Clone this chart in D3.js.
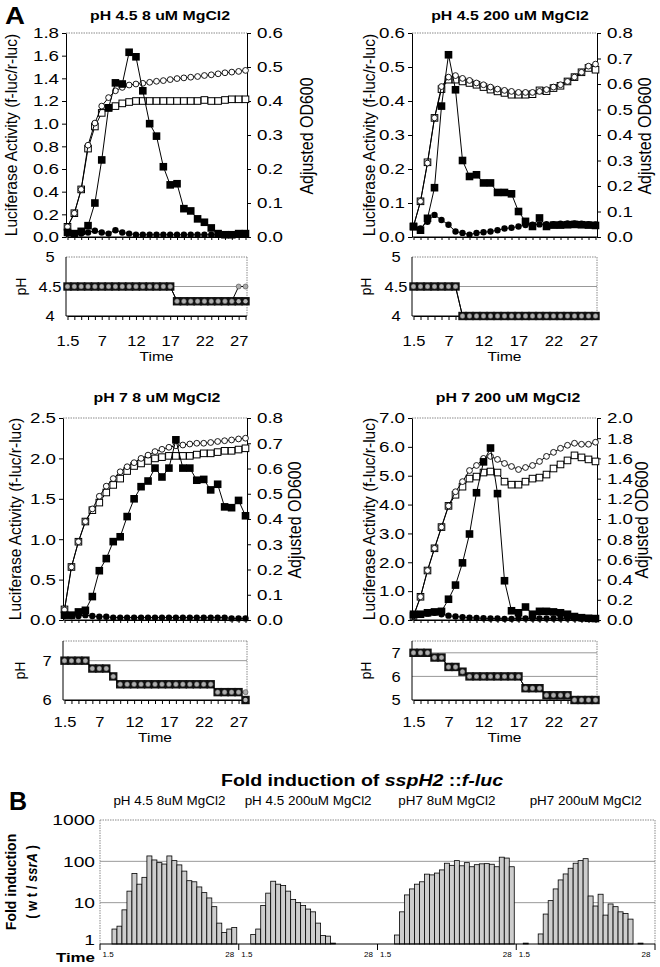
<!DOCTYPE html>
<head>
<meta charset="utf-8">
<script src="https://d3js.org/d3.v7.min.js"></script>
<style>
  body { margin:0; background:#fff; }
  svg { font-family: "Liberation Sans", Arial, Helvetica, sans-serif; }
  text { fill:#000; }
</style>
</head>
<body>
<svg id="fig" width="660" height="967"></svg>
<script>
// ---- data ----
const times = [1.5, 3, 4, 5, 6, 7, 8, 9, 10, 11, 12, 13, 14, 15, 16, 17, 18, 19, 20, 21, 22, 23, 24, 25, 26, 27, 28];
const timeTicks = [1.5, 7, 12, 17, 22, 27];

// pH 4.5, 8 uM MgCl2
const p1Luc     = [0.04,0.03,0.05,0.10,0.30,0.68,1.14,1.36,1.35,1.63,1.59,1.29,1.00,0.89,0.62,0.46,0.47,0.25,0.23,0.16,0.13,0.08,0.03,0.02,0.02,0.03,0.03];
const p1LucSsrA = [0.03,0.03,0.03,0.04,0.055,0.04,0.03,0.06,0.04,0.03,0.02,0.02,0.02,0.02,0.02,0.02,0.02,0.02,0.02,0.02,0.02,0.02,0.02,0.02,0.02,0.02,0.02];
const p1OD      = [0.03,0.07,0.14,0.27,0.335,0.385,0.41,0.43,0.44,0.447,0.45,0.452,0.455,0.458,0.46,0.463,0.466,0.468,0.47,0.472,0.475,0.477,0.48,0.483,0.485,0.487,0.49];
const p1ODSsrA  = [0.03,0.07,0.14,0.26,0.325,0.365,0.38,0.385,0.393,0.397,0.40,0.40,0.40,0.40,0.40,0.40,0.40,0.40,0.40,0.40,0.403,0.40,0.40,0.403,0.405,0.405,0.405];
const p1pH      = [4.5,4.5,4.5,4.5,4.5,4.5,4.5,4.5,4.5,4.5,4.5,4.5,4.5,4.5,4.5,4.5,4.25,4.25,4.25,4.25,4.25,4.25,4.25,4.25,4.25,4.25,4.25];
const p1pHSsrA  = [4.5,4.5,4.5,4.5,4.5,4.5,4.5,4.5,4.5,4.5,4.5,4.5,4.5,4.5,4.5,4.5,4.25,4.25,4.25,4.25,4.25,4.25,4.25,4.25,4.25,4.5,4.5];
const p1LeftTicks  = [0.0,0.2,0.4,0.6,0.8,1.0,1.2,1.4,1.6,1.8];
const p1RightTicks = [0.0,0.1,0.2,0.3,0.4,0.5,0.6];
const p1pHTicks = [4, 4.5, 5];

// pH 4.5, 200 uM MgCl2
const p2Luc     = [0.03,0.02,0.055,0.145,0.385,0.536,0.433,0.225,0.178,0.183,0.159,0.159,0.131,0.131,0.127,0.075,0.046,0.031,0.056,0.031,0.035,0.035,0.036,0.037,0.036,0.035,0.034];
const p2LucSsrA = [0.03,0.025,0.045,0.065,0.05,0.036,0.016,0.012,0.007,0.012,0.014,0.016,0.02,0.025,0.027,0.031,0.035,0.036,0.037,0.038,0.038,0.039,0.04,0.04,0.039,0.038,0.037];
const p2OD      = [0.042,0.14,0.29,0.467,0.59,0.627,0.633,0.622,0.614,0.604,0.597,0.588,0.58,0.575,0.571,0.567,0.567,0.567,0.571,0.578,0.588,0.597,0.61,0.627,0.646,0.67,0.678];
const p2ODSsrA  = [0.042,0.14,0.293,0.467,0.58,0.617,0.617,0.61,0.604,0.597,0.588,0.578,0.571,0.565,0.558,0.558,0.558,0.56,0.575,0.572,0.584,0.593,0.61,0.627,0.646,0.663,0.656];
const p2pH      = [4.5,4.5,4.5,4.5,4.5,4.5,4.5,4,4,4,4,4,4,4,4,4,4,4,4,4,4,4,4,4,4,4,4];
const p2pHSsrA  = [4.5,4.5,4.5,4.5,4.5,4.5,4.5,4,4,4,4,4,4,4,4,4,4,4,4,4,4,4,4,4,4,4,4];
const p2LeftTicks  = [0.0,0.1,0.2,0.3,0.4,0.5,0.6];
const p2RightTicks = [0.0,0.1,0.2,0.3,0.4,0.5,0.6,0.7,0.8];
const p2pHTicks = [4, 4.5, 5];

// pH 7, 8 uM MgCl2
const p3Luc     = [0.06,0.06,0.10,0.12,0.29,0.61,0.76,0.97,1.03,1.28,1.50,1.65,1.72,1.88,1.77,1.88,2.23,1.88,1.88,1.73,1.74,1.61,1.68,1.40,1.39,1.48,1.29];
const p3LucSsrA = [0.05,0.05,0.05,0.06,0.05,0.04,0.04,0.03,0.03,0.03,0.03,0.03,0.03,0.03,0.03,0.03,0.03,0.03,0.03,0.03,0.03,0.03,0.03,0.03,0.02,0.02,0.02];
const p3OD      = [0.04,0.21,0.31,0.39,0.44,0.49,0.53,0.56,0.587,0.607,0.623,0.64,0.653,0.667,0.676,0.684,0.69,0.693,0.697,0.70,0.70,0.703,0.707,0.71,0.713,0.717,0.72];
const p3ODSsrA  = [0.042,0.21,0.31,0.39,0.435,0.465,0.505,0.535,0.56,0.59,0.61,0.62,0.63,0.64,0.645,0.65,0.65,0.65,0.65,0.655,0.66,0.66,0.665,0.67,0.67,0.675,0.68];
const p3pH      = [7,7,7,7,6.8,6.8,6.8,6.6,6.4,6.4,6.4,6.4,6.4,6.4,6.4,6.4,6.4,6.4,6.4,6.4,6.4,6.4,6.2,6.2,6.2,6.2,6.0];
const p3pHSsrA  = [7,7,7,7,6.8,6.8,6.8,6.6,6.4,6.4,6.4,6.4,6.4,6.4,6.4,6.4,6.4,6.4,6.4,6.4,6.4,6.4,6.2,6.2,6.2,6.2,6.2];
const p3LeftTicks  = [0.0,0.5,1.0,1.5,2.0,2.5];
const p3RightTicks = [0.0,0.1,0.2,0.3,0.4,0.5,0.6,0.7,0.8];
const p3pHTicks = [6, 7];

// pH 7, 200 uM MgCl2
const p4Luc     = [0.2,0.2,0.25,0.28,0.3,0.72,1.21,1.98,2.98,4.41,5.48,5.96,4.38,1.36,0.32,0.25,0.45,0.2,0.3,0.3,0.28,0.25,0.2,0.12,0.08,0.06,0.05];
const p4LucSsrA = [0.15,0.2,0.22,0.25,0.2,0.15,0.12,0.1,0.08,0.07,0.06,0.05,0.05,0.04,0.04,0.05,0.05,0.05,0.05,0.05,0.05,0.05,0.05,0.05,0.04,0.04,0.04];
const p4OD      = [0.04,0.23,0.49,0.71,0.92,1.13,1.27,1.37,1.48,1.53,1.60,1.62,1.59,1.55,1.52,1.49,1.51,1.53,1.57,1.62,1.66,1.70,1.73,1.75,1.74,1.74,1.76];
const p4ODSsrA  = [0.04,0.23,0.49,0.71,0.92,1.13,1.24,1.32,1.40,1.42,1.46,1.47,1.46,1.37,1.34,1.34,1.37,1.40,1.41,1.44,1.50,1.54,1.58,1.63,1.61,1.59,1.57];
const p4pH      = [7,7,7,6.8,6.8,6.4,6.4,6.2,6,6,6,6,6,6,6,6,5.5,5.5,5.5,5.2,5.2,5.2,5.2,5,5,5,5];
const p4pHSsrA  = [7,7,7,6.8,6.8,6.4,6.4,6.2,6,6,6,6,6,6,6,6,5.5,5.5,5.5,5.2,5.2,5.2,5.2,5,5,5,5];
const p4LeftTicks  = [0,1,2,3,4,5,6,7];
const p4RightTicks = [0.0,0.2,0.4,0.6,0.8,1.0,1.2,1.4,1.6,1.8,2.0];
const p4pHTicks = [5, 6, 7];

// panel B: fold induction wt/ssrA
const foldGroups = ['pH 4.5 8uM MgCl2', 'pH 4.5 200uM MgCl2', 'pH7 8uM MgCl2', 'pH7 200uM MgCl2'];
const fold1 = [null,null,2.3,2.7,6.7,19,51,28,41,135,108,93,86,135,104,82,58,34,32,24,17.5,13,8,3.2,1.9,2.3,2.5];
const fold2 = [null,null,1.7,2.3,8.5,17,33,28,26,19,12,10,8.5,7,6,3.2,1.6,1.55,1.05,null,null,null,null,null,null,null,null];
const fold3 = [null,null,null,1.65,6.0,15.4,21.5,28,32,49,47,52,62,90,80,104,78,93,74,83,87,88,85,74,126,120,74];
const fold4 = [null,1.05,null,null,1.75,5.3,11.2,21.5,35.5,49.5,68,90,104,116,14.5,8.3,16,5.0,9.3,8.0,6.0,5.5,4.0,null,1.05,null,null];
const foldTicks = [1, 10, 100, 1000];
const foldTimeTicks = [1.5, 28];

// ---- drawing ----
const svg = d3.select('#fig');

function label(g, x, y, s, o = {}) {
  return g.append('text')
    .attr('transform', `translate(${x},${y}) scale(${o.k || 1},1)`)
    .attr('text-anchor', o.anchor || 'middle')
    .style('font-size', (o.size || 12) + 'px')
    .style('font-weight', o.weight || 'normal')
    .style('font-style', o.italic ? 'italic' : 'normal')
    .text(s);
}

function vlabel(g, x, y, s, o = {}) {
  return g.append('text')
    .attr('transform', `translate(${x},${y}) rotate(-90) scale(1,${o.k || 1})`)
    .attr('text-anchor', 'middle')
    .attr('dy', '0.35em')
    .style('font-size', (o.size || 12) + 'px')
    .style('font-weight', o.weight || 'normal')
    .text(s);
}

// d3 axis text -> our font, stretched sideways like the scan
function styleAxis(ax, size, k) {
  ax.attr('font-size', null).attr('font-family', null);
  ax.selectAll('text').each(function() {
    const t = d3.select(this);
    const x = +t.attr('x') || 0;
    t.attr('x', x / k).attr('transform', `scale(${k},1)`)
      .style('font-size', size + 'px').attr('fill', '#000');
  });
  ax.selectAll('line,path').attr('stroke', '#000');
}

function dotted(g, x1, y1, x2, y2) {
  g.append('line').attr('x1', x1).attr('y1', y1).attr('x2', x2).attr('y2', y2)
    .attr('stroke', '#8a8a8a').attr('stroke-width', 1).attr('stroke-dasharray', '1.5,1');
}

function series(g, x, y, vals, kind) {
  g.append('path').datum(vals)
    .attr('d', d3.line().x((d, i) => x(times[i])).y(d => y(d)))
    .attr('fill', 'none').attr('stroke', '#000').attr('stroke-width', 1);
  const m = g.selectAll(null).data(vals).enter();
  const cx = (d, i) => x(times[i]);
  if (kind === 'openSq') {
    m.append('rect').attr('x', (d, i) => cx(d, i) - 3.3).attr('y', d => y(d) - 3.3)
      .attr('width', 6.6).attr('height', 6.6).attr('fill', '#fff').attr('stroke', '#000').attr('stroke-width', 1);
  } else if (kind === 'openCi') {
    m.append('circle').attr('cx', cx).attr('cy', d => y(d)).attr('r', 2.9)
      .attr('fill', '#fff').attr('stroke', '#000').attr('stroke-width', 0.9);
  } else if (kind === 'fillSq') {
    m.append('rect').attr('x', (d, i) => cx(d, i) - 3.8).attr('y', d => y(d) - 3.8)
      .attr('width', 7.6).attr('height', 7.6).attr('fill', '#000');
  } else if (kind === 'fillCi') {
    m.append('circle').attr('cx', cx).attr('cy', d => y(d)).attr('r', 3.2).attr('fill', '#000');
  } else if (kind === 'phSq') {
    m.append('rect').attr('x', (d, i) => cx(d, i) - 4.2).attr('y', d => y(d) - 4.2)
      .attr('width', 8.4).attr('height', 8.4).attr('fill', '#111');
  } else if (kind === 'phCi') {
    m.append('circle').attr('cx', cx).attr('cy', d => y(d)).attr('r', 2.5)
      .attr('fill', '#adadad').attr('stroke', '#333').attr('stroke-width', 0.5);
  }
}

const panels = [
  { title: 'pH 4.5 8 uM MgCl2', tx: 160, ty: 20, x0: 66, x1: 247, yTop: 33, yBot: 237,
    lMax: 1.8, rMax: 0.6, lTicks: p1LeftTicks, rTicks: p1RightTicks,
    luc: p1Luc, lucS: p1LucSsrA, od: p1OD, odS: p1ODSsrA, ph: p1pH, phS: p1pHSsrA,
    phDom: [4, 5], phTicks: p1pHTicks, phGrid: [4.5], pTop: 257, pBot: 316,
    tickBase: 346, timeBase: 361, lLabX: 11, rLabX: 307, phLabX: 21 },
  { title: 'pH 4.5 200 uM MgCl2', tx: 510, ty: 20, x0: 412, x1: 597, yTop: 33, yBot: 237,
    lMax: 0.6, rMax: 0.8, lTicks: p2LeftTicks, rTicks: p2RightTicks,
    luc: p2Luc, lucS: p2LucSsrA, od: p2OD, odS: p2ODSsrA, ph: p2pH, phS: p2pHSsrA,
    phDom: [4, 5], phTicks: p2pHTicks, phGrid: [4.5], pTop: 257, pBot: 316,
    tickBase: 346, timeBase: 361, lLabX: 369, rLabX: 645, phLabX: 366 },
  { title: 'pH 7 8 uM MgCl2', tx: 157, ty: 402, x0: 63, x1: 247, yTop: 418, yBot: 620,
    lMax: 2.5, rMax: 0.8, lTicks: p3LeftTicks, rTicks: p3RightTicks,
    luc: p3Luc, lucS: p3LucSsrA, od: p3OD, odS: p3ODSsrA, ph: p3pH, phS: p3pHSsrA,
    phDom: [6, 7.5], phTicks: p3pHTicks, phGrid: [7], pTop: 641, pBot: 700,
    tickBase: 727, timeBase: 742, lLabX: 15, rLabX: 295, phLabX: 20 },
  { title: 'pH 7 200 uM MgCl2', tx: 508, ty: 402, x0: 412, x1: 597, yTop: 418, yBot: 620,
    lMax: 7, rMax: 2, lTicks: p4LeftTicks, rTicks: p4RightTicks,
    luc: p4Luc, lucS: p4LucSsrA, od: p4OD, odS: p4ODSsrA, ph: p4pH, phS: p4pHSsrA,
    phDom: [5, 7.5], phTicks: p4pHTicks, phGrid: [6, 7], pTop: 641, pBot: 700,
    tickBase: 727, timeBase: 742, lLabX: 369, rLabX: 642, phLabX: 366 }
];

const fmt1 = d3.format('.1f');

panels.forEach(p => {
  const g = svg.append('g');
  const x = d3.scalePoint().domain(times).range([p.x0 + 1.5, p.x1 - 1.5]);
  const yL = d3.scaleLinear().domain([0, p.lMax]).range([p.yBot, p.yTop]);
  const yR = d3.scaleLinear().domain([0, p.rMax]).range([p.yBot, p.yTop]);

  label(g, p.tx, p.ty, p.title, { size: 13, weight: 'bold', k: 1.22 });

  // main plot frame
  dotted(g, p.x0, p.yTop, p.x1, p.yTop);
  const bx = g.append('g').attr('transform', `translate(0,${p.yBot})`)
    .call(d3.axisBottom(x).tickSize(3).tickSizeOuter(0).tickFormat(''));
  bx.selectAll('line,path').attr('stroke', '#000');
  g.append('line').attr('x1', p.x0).attr('x2', p.x1).attr('y1', p.yBot).attr('y2', p.yBot).attr('stroke', '#000');

  const la = g.append('g').attr('transform', `translate(${p.x0},0)`)
    .call(d3.axisLeft(yL).tickValues(p.lTicks).tickFormat(fmt1).tickSize(4).tickSizeOuter(0).tickPadding(3));
  styleAxis(la, 15, 1.25);
  const ra = g.append('g').attr('transform', `translate(${p.x1},0)`)
    .call(d3.axisRight(yR).tickValues(p.rTicks).tickFormat(fmt1).tickSize(4).tickSizeOuter(0).tickPadding(6));
  styleAxis(ra, 15, 1.25);

  vlabel(g, p.lLabX, (p.yTop + p.yBot) / 2, 'Luciferase Activity (f-luc/r-luc)', { size: 15.5, k: 1.1 });
  vlabel(g, p.rLabX, (p.yTop + p.yBot) / 2 + 1, 'Adjusted OD600', { size: 16, k: 1.1 });

  series(g, x, yR, p.odS, 'openSq');
  series(g, x, yR, p.od, 'openCi');
  series(g, x, yL, p.luc, 'fillSq');
  series(g, x, yL, p.lucS, 'fillCi');

  // pH strip
  const yP = d3.scaleLinear().domain(p.phDom).range([p.pBot, p.pTop]);
  p.phGrid.forEach(v => g.append('line').attr('x1', p.x0).attr('x2', p.x1)
    .attr('y1', yP(v)).attr('y2', yP(v)).attr('stroke', '#999').attr('stroke-width', 1));
  dotted(g, p.x0, p.pTop, p.x1, p.pTop);
  dotted(g, p.x1, p.pTop, p.x1, p.pBot);

  const pa = g.append('g').attr('transform', `translate(${p.x0},0)`)
    .call(d3.axisLeft(yP).tickValues(p.phTicks).tickFormat(d3.format('~g')).tickSize(0).tickSizeOuter(0).tickPadding(0));
  pa.selectAll('text').attr('text-anchor', 'middle').attr('x', -16);
  styleAxis(pa, 15, 1.1);
  pa.select('.domain').attr('d', `M0,${p.pTop}V${p.pBot}`);

  const pb = g.append('g').attr('transform', `translate(0,${p.pBot})`)
    .call(d3.axisBottom(x).tickSize(4).tickSizeOuter(0).tickFormat(''));
  pb.selectAll('line,path').attr('stroke', '#000');
  g.append('line').attr('x1', p.x0).attr('x2', p.x1).attr('y1', p.pBot).attr('y2', p.pBot).attr('stroke', '#000');

  const pt = g.append('g').attr('transform', `translate(0,${p.pBot})`)
    .call(d3.axisBottom(x).tickValues(timeTicks).tickSize(0).tickFormat(d3.format('~g')));
  pt.select('.domain').remove();
  pt.selectAll('text').attr('y', p.tickBase - p.pBot).attr('dy', 0);
  styleAxis(pt, 14, 1.18);

  label(g, (p.x0 + p.x1) / 2, p.timeBase, 'Time', { size: 13.5, k: 1.15 });
  vlabel(g, p.phLabX, (p.pTop + p.pBot) / 2, 'pH', { size: 14, k: 1.1 });

  series(g, x, yP, p.ph, 'phSq');
  g.append('g').selectAll('circle').data(p.ph).enter().append('circle')
    .attr('cx', (d, i) => x(times[i])).attr('cy', d => yP(d)).attr('r', 2.2).attr('fill', '#b5b5b5');
  series(g, x, yP, p.phS, 'phCi');
});

// panel letters
label(svg, 5, 24, 'A', { size: 24, weight: 'bold', anchor: 'start', k: 1.15 });
label(svg, 9, 810, 'B', { size: 25, weight: 'bold', anchor: 'start' });

// ---- panel B ----
const gB = svg.append('g');
const bL = 100, bR = 655, bT = 820, bBot = 944;
const yB = d3.scaleLog().domain([1, 1000]).range([bBot, bT]);
const gx = d3.scaleBand().domain(foldGroups).range([bL, bR]).padding(0);
const inner = d3.scaleBand().domain(times).range([0, gx.bandwidth()]).paddingInner(0).paddingOuter(0.4);
const foldData = [fold1, fold2, fold3, fold4];

const tt = gB.append('text').attr('transform', 'translate(362,786) scale(1.15,1)')
  .attr('text-anchor', 'middle').style('font-size', '17px').style('font-weight', 'bold');
tt.append('tspan').text('Fold induction of ');
tt.append('tspan').style('font-style', 'italic').text('sspH2');
tt.append('tspan').text(' ::');
tt.append('tspan').style('font-style', 'italic').text('f-luc');

foldGroups.forEach(name => label(gB, gx(name) + gx.bandwidth() / 2, 805, name, { size: 12, k: 1.12 }));

[10, 100].forEach(v => gB.append('line').attr('x1', bL).attr('x2', bR)
  .attr('y1', yB(v)).attr('y2', yB(v)).attr('stroke', '#999'));
dotted(gB, bL, bT, bR, bT);
dotted(gB, bL, bT, bL, bBot);
dotted(gB, bR, bT, bR, bBot);

const ya = gB.append('g').attr('transform', `translate(${bL},0)`)
  .call(d3.axisLeft(yB).tickValues(foldTicks).tickFormat(d3.format('d')).tickSize(0).tickPadding(5));
ya.select('.domain').remove();
styleAxis(ya, 15, 1.28);
ya.selectAll('text').attr('dy', d => d === 1 ? '0.05em' : '0.32em');

foldGroups.forEach((name, gi) => {
  const vals = foldData[gi];
  gB.append('g').selectAll('rect')
    .data(times.map((t, i) => ({ t, v: vals[i] })).filter(d => d.v != null))
    .enter().append('rect')
    .attr('x', d => gx(name) + inner(d.t))
    .attr('width', inner.bandwidth())
    .attr('y', d => yB(d.v))
    .attr('height', d => yB(1) - yB(d.v))
    .attr('fill', '#cdcdcd').attr('stroke', '#000').attr('stroke-width', 0.8);

  const ta = gB.append('g').attr('transform', `translate(${gx(name)},${bBot})`)
    .call(d3.axisBottom(inner).tickValues(foldTimeTicks).tickSize(0).tickFormat(d3.format('~g')));
  ta.select('.domain').remove();
  ta.attr('font-size', null).attr('font-family', null);
  ta.selectAll('text').attr('y', 13).attr('dy', 0).style('font-size', '8px').attr('fill', '#000')
    .attr('text-anchor', d => d === 28 ? 'end' : 'start')
    .attr('x', d => d === 28 ? 0 : -2);
});

gB.append('line').attr('x1', bL).attr('x2', bR).attr('y1', bBot).attr('y2', bBot).attr('stroke', '#000');
[bL].concat(foldGroups.map(n => gx(n) + gx.bandwidth())).forEach(v =>
  gB.append('line').attr('x1', v).attr('x2', v).attr('y1', bBot).attr('y2', bBot + 6).attr('stroke', '#000'));

label(gB, 95, 962, 'Time', { size: 13, weight: 'bold', anchor: 'end', k: 1.3 });

vlabel(gB, 11, 882, 'Fold induction', { size: 14, weight: 'bold', k: 1.1 });
const v2 = gB.append('text').attr('transform', 'translate(32,882) rotate(-90) scale(1,1.1)')
  .attr('text-anchor', 'middle').attr('dy', '0.35em').style('font-size', '13px').style('font-weight', 'bold');
v2.append('tspan').text('( w t / ');
v2.append('tspan').style('font-style', 'italic').text('ssrA');
v2.append('tspan').text(' )');
</script>
</body>
